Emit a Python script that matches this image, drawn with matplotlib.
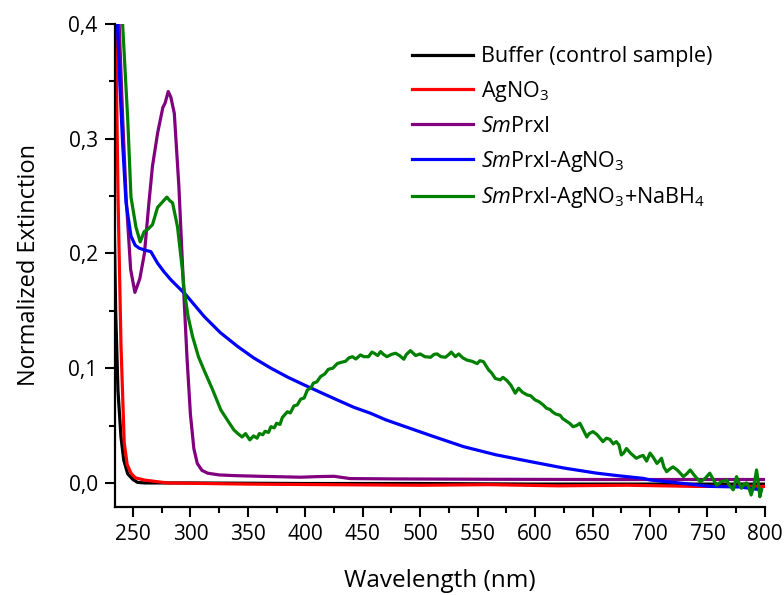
import matplotlib
matplotlib.use("Agg")
import matplotlib.pyplot as plt
from matplotlib.ticker import MultipleLocator

plt.rcParams['font.family'] = ['Open Sans', 'DejaVu Sans']
plt.rcParams['mathtext.fontset'] = 'custom'
plt.rcParams['mathtext.rm'] = 'Open Sans'
plt.rcParams['mathtext.it'] = 'Open Sans:italic'

# spectra: wavelength (nm) / normalized extinction
buffer_wl = [230, 235, 237, 239.6, 242, 245.4, 250, 254, 260, 300, 400, 500, 600, 700, 800]
buffer_ab = [0.45, 0.148, 0.08, 0.04, 0.02, 0.008, 0.003, 0.0005, 0.0, 0.0, -0.0005, -0.0005, -0.001, -0.001, -0.001]

agno3_wl = [232, 235, 237, 239.6, 242.4, 245, 248.3, 252, 260, 280, 350, 420, 500, 560, 620, 680, 740, 800]
agno3_ab = [0.45, 0.40, 0.25, 0.12, 0.035, 0.016, 0.0085, 0.0045, 0.0025, 0.0, -0.001, -0.0015, -0.002, -0.0015,
            -0.0025, -0.002, -0.003, -0.003]

prx_wl = [236, 238, 241, 244, 248, 251.7, 256, 260, 264, 267, 271.5, 276, 278, 280.7, 283, 286,
          290, 294, 297, 300, 303, 306, 310, 315, 325, 338, 360, 396, 410, 425, 439, 480, 560, 650, 750, 800]
prx_ab = [0.45, 0.40, 0.32, 0.25, 0.186, 0.166, 0.178, 0.20, 0.245, 0.276, 0.305, 0.327, 0.331, 0.341, 0.336, 0.322,
          0.258, 0.171, 0.11, 0.06, 0.03, 0.017, 0.011, 0.0085, 0.007, 0.0064, 0.0058, 0.005, 0.0055, 0.0058, 0.0038,
          0.0035, 0.0032, 0.003, 0.003, 0.003]

prx_ag_wl = [236, 238.5, 241, 244, 248.3, 252, 255.5, 260, 265.6, 271.4, 277, 283, 293, 296, 312, 326, 341, 355,
             370, 385, 399, 413, 427.8, 442, 456.8, 470, 482.8, 510, 537.8, 566, 595.8, 625, 653.7, 675, 694,
             700, 725, 752, 778, 797]
prx_ag_ab = [0.41, 0.35, 0.296, 0.244, 0.215, 0.207, 0.2045, 0.203, 0.2015, 0.1915, 0.184, 0.177, 0.167, 0.164,
             0.145, 0.131, 0.119, 0.109, 0.100, 0.092, 0.0854, 0.079, 0.0723, 0.066, 0.0607, 0.055, 0.0505, 0.041,
             0.0316, 0.0245, 0.0186, 0.013, 0.0085, 0.006, 0.004, 0.0026, 0.0, -0.003, -0.0035, -0.006]

nabh4_wl = [239, 241, 245.5, 248.3, 252.6, 256.3, 259.8, 263, 267, 271.4, 275, 279.5, 282, 284.5, 288.8, 293,
            294.6, 298, 301.9, 307, 312, 319, 326.5, 334, 338, 341, 345, 348, 351.7, 355, 358, 360, 363, 365,
            368, 370, 373, 375, 378, 380, 384.4, 387, 390, 393, 396, 399, 401.8, 405, 407, 410, 413.3, 417,
            420, 424, 427.8, 431, 435, 438, 441, 444, 448, 451, 455, 458, 460, 463, 465.5, 468, 471, 475,
            478.5, 482, 485.7, 488, 491.5, 496, 500, 504, 509, 512, 514.7, 518, 522, 525, 527, 530.6, 533.5,
            537, 540.8, 545, 549.5, 552, 555, 559.5, 562, 565.4, 569.7, 572, 575.5, 579, 582.7, 585.6, 589,
            593, 596, 600, 603, 607, 610, 613, 615, 618, 621.7, 624, 627, 630, 633, 636, 639, 642, 645, 647,
            650.4, 654, 659, 662, 665, 668, 670.6, 673, 675, 677, 679.5, 683, 688, 691, 694, 697, 700, 703,
            706, 708, 710, 712, 714.5, 717, 720, 724, 729, 732, 735, 739, 743.7, 748, 752, 755, 758, 762,
            766.6, 769, 772.4, 775.3, 777, 779.6, 782, 784, 786, 788, 790.5, 792.7, 794, 795.6, 797]
nabh4_ab = [0.46, 0.40, 0.316, 0.249, 0.223, 0.210, 0.219, 0.221, 0.225, 0.240, 0.244, 0.249, 0.246, 0.244,
            0.223, 0.186, 0.168, 0.145, 0.1275, 0.110, 0.098, 0.082, 0.0636, 0.052, 0.046, 0.0433, 0.040, 0.043,
            0.0375, 0.041, 0.039, 0.043, 0.042, 0.045, 0.044, 0.049, 0.048, 0.052, 0.051, 0.057, 0.062, 0.061,
            0.067, 0.068, 0.073, 0.074, 0.081, 0.083, 0.087, 0.088, 0.0927, 0.095, 0.099, 0.100, 0.104, 0.105,
            0.106, 0.109, 0.110, 0.108, 0.1115, 0.110, 0.110, 0.114, 0.113, 0.111, 0.1144, 0.112, 0.110, 0.112,
            0.113, 0.111, 0.1078, 0.112, 0.1153, 0.111, 0.1124, 0.110, 0.1095, 0.112, 0.1124, 0.110, 0.1095,
            0.112, 0.114, 0.110, 0.1124, 0.109, 0.107, 0.106, 0.104, 0.1065, 0.1057, 0.0985, 0.096, 0.091,
            0.0898, 0.092, 0.0892, 0.085, 0.0782, 0.0825, 0.079, 0.0767, 0.076, 0.0723, 0.071, 0.068, 0.065,
            0.064, 0.062, 0.060, 0.059, 0.056, 0.054, 0.052, 0.049, 0.050, 0.052, 0.046, 0.040, 0.043, 0.0447,
            0.042, 0.036, 0.039, 0.038, 0.034, 0.036, 0.033, 0.0244, 0.026, 0.030, 0.026, 0.0215, 0.023, 0.024,
            0.019, 0.026, 0.022, 0.017, 0.019, 0.0215, 0.014, 0.0098, 0.012, 0.014, 0.011, 0.0055, 0.008, 0.0113,
            0.006, 0.001, 0.004, 0.0085, 0.003, -0.002, 0.001, 0.0026, -0.002, -0.006, 0.0055, 0.001, -0.0046,
            -0.001, 0.0, -0.004, -0.0105, -0.002, 0.0113, 0.002, -0.012, -0.006]

series = [
    (buffer_wl, buffer_ab, 'black', 'Buffer (control sample)'),
    (agno3_wl, agno3_ab, '#ff0000', r'AgNO$_3$'),
    (prx_wl, prx_ab, '#800080', r'$\it{Sm}$PrxI'),
    (prx_ag_wl, prx_ag_ab, '#0000ff', r'$\it{Sm}$PrxI-AgNO$_3$'),
    (nabh4_wl, nabh4_ab, '#008000', r'$\it{Sm}$PrxI-AgNO$_3$+NaBH$_4$'),
]

x_ticks = [250, 300, 350, 400, 450, 500, 550, 600, 650, 700, 750, 800]
y_ticks = [0.0, 0.1, 0.2, 0.3, 0.4]
y_tick_labels = ['0,0', '0,1', '0,2', '0,3', '0,4']

fig = plt.figure(figsize=(7.84, 5.95), dpi=100)
ax = fig.add_axes([0.1467, 0.148, 0.829, 0.812])

for wl, ab, col, lab in series:
    ax.plot(wl, ab, color=col, lw=2.3, label=lab)

ax.set_xlim(234.4, 800)
ax.set_ylim(-0.0209, 0.4)
ax.set_xticks(x_ticks)
ax.xaxis.set_minor_locator(MultipleLocator(25))
ax.set_yticks(y_ticks)
ax.set_yticklabels(y_tick_labels)
ax.yaxis.set_minor_locator(MultipleLocator(0.05))

for s in ['top', 'right']:
    ax.spines[s].set_visible(False)
for s in ['left', 'bottom']:
    ax.spines[s].set_linewidth(1.6)
ax.tick_params(which='major', direction='out', length=7.5, width=1.5, labelsize=15, pad=5)
ax.tick_params(which='minor', direction='out', length=4, width=1.5)

ax.set_xlabel('Wavelength (nm)', fontsize=17.5, labelpad=17)
ax.set_ylabel('Normalized Extinction', fontsize=17, labelpad=20)

ax.legend(loc='upper left', bbox_to_anchor=(0.515, 0.937), bbox_transform=fig.transFigure,
          borderaxespad=0, frameon=False, fontsize=15.5, handlelength=2.8, handletextpad=0.4,
          labelspacing=0.55)

fig.savefig('out.png', dpi=100)
